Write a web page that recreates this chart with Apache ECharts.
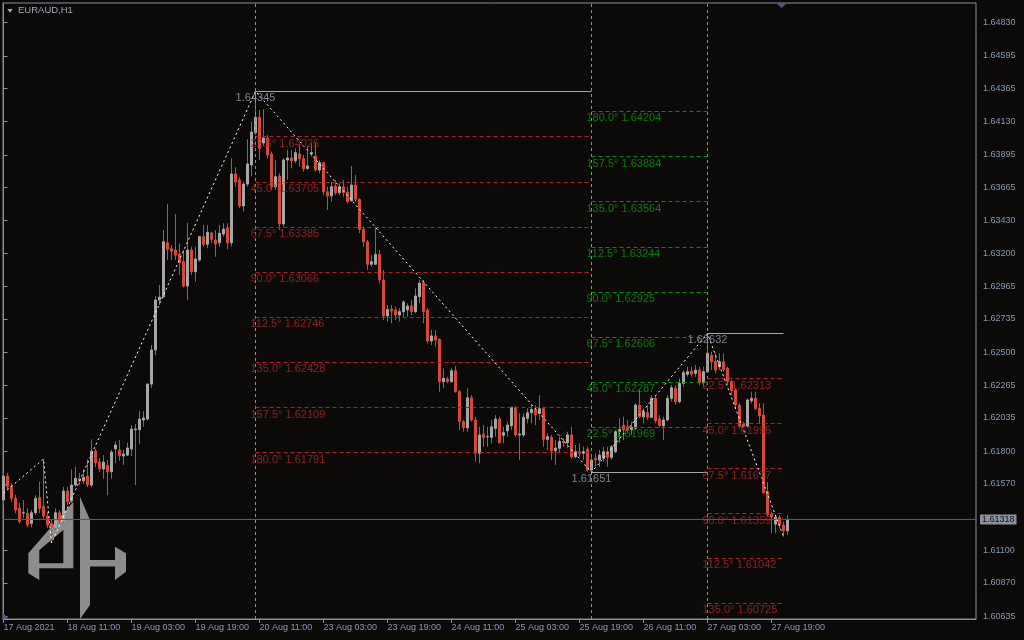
<!DOCTYPE html>
<html><head><meta charset="utf-8">
<script src="https://cdn.jsdelivr.net/npm/echarts@6/dist/echarts.min.js"></script>
<style>html,body{margin:0;padding:0;background:#0c0a08;}#c{width:1024px;height:640px;}</style>
</head><body><div id="c"></div>
<script>
const chartTitle = 'EURAUD,H1';
// hourly bars, index 0 = 17 Aug 2021 19:00 (weekend gap removed)
const opens = [1.61455,1.61625,1.61549,1.61467,1.61398,1.61363,1.61361,1.61290,1.61365,1.61474,1.61408,1.61342,1.61290,1.61262,1.61365,1.61307,1.61519,1.61448,1.61561,1.61608,1.61591,1.61625,1.61561,1.61801,1.61724,1.61674,1.61700,1.61655,1.61816,1.61809,1.61766,1.61773,1.61816,1.61952,1.61952,1.62021,1.62028,1.62275,1.62516,1.62869,
1.62893,1.63274,1.63232,1.63223,1.63195,1.63140,1.62968,1.63223,1.63069,1.63152,1.63317,1.63263,1.63343,1.63294,1.63274,1.63336,1.63380,1.63274,1.63760,1.63718,1.63534,1.63689,1.63824,1.64052,1.64161,1.63979,1.64015,1.63902,1.63670,1.63746,
1.63407,1.63859,1.63873,1.63854,1.63902,1.63868,1.63798,1.63902,1.63887,1.63788,1.63840,1.63635,1.63605,1.63675,1.63628,1.63670,1.63633,1.63571,1.63682,1.63581,1.63369,1.63281,1.63122,1.63122,1.63192,1.63011,1.62756,1.62806,1.62799,1.62763,
1.62787,1.62799,1.62827,1.62787,1.62893,1.62992,1.62799,1.62579,1.62615,1.62591,1.62292,1.62311,1.62292,1.62369,1.62221,1.62009,1.61966,1.62178,1.62021,1.61785,1.61920,1.61901,1.61898,1.61962,1.62028,1.61913,1.61945,1.61980,1.62111,1.61915,
1.61915,1.62033,1.62072,1.62096,1.62068,1.62101,1.61884,1.61898,1.61804,1.61821,1.61870,1.61860,1.61915,1.61761,1.61797,1.61785,1.61814,1.61667,1.61750,1.61738,1.61750,1.61797,1.61757,1.61797,1.61938,1.61983,1.61973,1.61955,1.61962,1.62127,
1.62044,1.62072,1.62040,1.62174,1.62028,1.61980,1.62021,1.62174,1.62245,1.62150,1.62280,1.62344,1.62367,1.62351,1.62374,1.62284,1.62362,1.62480,1.62433,1.62398,1.62433,1.62386,1.62292,1.62233,1.62127,1.61992,1.61978,1.62157,1.62174,1.62103,
1.62056,1.61514,1.61354,1.61285,1.61333,1.61278,1.61238];
const closes = [1.61625,1.61549,1.61467,1.61384,1.61302,1.61365,1.61278,1.61365,1.61467,1.61396,1.61342,1.61278,1.61262,1.61365,1.61307,1.61519,1.61443,1.61561,1.61608,1.61589,1.61615,1.61561,1.61801,1.61719,1.61676,1.61724,1.61655,1.61794,1.61844,1.61768,1.61780,1.61823,1.61957,1.61957,1.62028,1.62035,1.62275,1.62516,1.62869,1.62890,
1.63281,1.63228,1.63214,1.63187,1.63133,1.62968,1.63223,1.63069,1.63159,1.63317,1.63263,1.63348,1.63298,1.63265,1.63341,1.63371,1.63274,1.63760,1.63704,1.63534,1.63689,1.63831,1.64057,1.64161,1.63942,1.64015,1.63895,1.63670,1.63741,1.63407,
1.63859,1.63873,1.63854,1.63911,1.63868,1.63798,1.63817,1.63911,1.63788,1.63840,1.63635,1.63605,1.63670,1.63628,1.63670,1.63628,1.63564,1.63682,1.63581,1.63369,1.63281,1.63122,1.63140,1.63192,1.63011,1.62756,1.62803,1.62791,1.62763,1.62787,
1.62855,1.62827,1.62787,1.62898,1.62989,1.62787,1.62579,1.62615,1.62586,1.62292,1.62316,1.62292,1.62369,1.62221,1.62009,1.61966,1.62178,1.62021,1.61785,1.61915,1.61896,1.61903,1.61973,1.62028,1.61860,1.61931,1.61985,1.62111,1.61915,1.61922,
1.62040,1.62072,1.62096,1.62056,1.62101,1.61884,1.61903,1.61804,1.61823,1.61870,1.61860,1.61915,1.61761,1.61797,1.61785,1.61797,1.61667,1.61738,1.61738,1.61773,1.61797,1.61757,1.61832,1.61938,1.61955,1.61950,1.61955,1.61969,1.62127,1.62044,
1.62079,1.62040,1.62174,1.62016,1.61980,1.62021,1.62174,1.62249,1.62150,1.62280,1.62355,1.62362,1.62346,1.62374,1.62284,1.62362,1.62492,1.62433,1.62374,1.62433,1.62379,1.62292,1.62228,1.62127,1.61978,1.61978,1.62162,1.62174,1.62103,1.62051,
1.61507,1.61354,1.61335,1.61333,1.61278,1.61238,1.61318];
const highs = [1.61646,1.61646,1.61575,1.61490,1.61434,1.61455,1.61398,1.61384,1.61490,1.61584,1.61745,1.61372,1.61314,1.61396,1.61384,1.61549,1.61549,1.61672,1.61690,1.61646,1.61672,1.61743,1.61884,1.61816,1.61752,1.61773,1.61738,1.61809,1.61872,1.61879,1.61809,1.61860,1.61985,1.61992,1.62084,1.62084,1.62280,1.62551,1.62898,1.62975,
1.63364,1.63548,1.63258,1.63477,1.63270,1.63223,1.63414,1.63246,1.63246,1.63322,1.63400,1.63400,1.63352,1.63364,1.63400,1.63412,1.63412,1.63871,1.63808,1.63737,1.63706,1.64006,1.64130,1.64345,1.64213,1.64218,1.64036,1.63918,1.63859,1.63765,
1.63871,1.63930,1.63930,1.63942,1.63965,1.63895,1.63953,1.63977,1.63981,1.63859,1.63847,1.63670,1.63706,1.63718,1.63694,1.63718,1.63670,1.63817,1.63753,1.63588,1.63388,1.63294,1.63187,1.63388,1.63223,1.63081,1.62834,1.62834,1.62822,1.62811,
1.62869,1.62846,1.62869,1.62952,1.63011,1.63011,1.62811,1.62657,1.62657,1.62598,1.62386,1.62327,1.62386,1.62403,1.62233,1.62021,1.62245,1.62197,1.62044,1.61973,1.61985,1.61973,1.62021,1.62056,1.62044,1.61973,1.62009,1.62115,1.62115,1.62068,
1.62068,1.62103,1.62127,1.62127,1.62197,1.62115,1.61927,1.61915,1.61879,1.61903,1.61891,1.61938,1.61973,1.61844,1.61856,1.61832,1.61832,1.61761,1.61785,1.61809,1.61832,1.61832,1.61844,1.61950,1.62033,1.62044,1.62021,1.62009,1.62139,1.62233,
1.62103,1.62127,1.62197,1.62197,1.62056,1.62044,1.62197,1.62268,1.62268,1.62316,1.62374,1.62398,1.62398,1.62410,1.62398,1.62398,1.62632,1.62504,1.62492,1.62492,1.62492,1.62398,1.62304,1.62245,1.62139,1.62009,1.62174,1.62221,1.62221,1.62139,
1.62139,1.61584,1.61372,1.61349,1.61349,1.61302,1.61349];
const lows = [1.61420,1.61526,1.61443,1.61361,1.61290,1.61326,1.61262,1.61262,1.61349,1.61361,1.61326,1.61255,1.61151,1.61243,1.61290,1.61290,1.61420,1.61434,1.61547,1.61561,1.61568,1.61547,1.61547,1.61688,1.61653,1.61606,1.61490,1.61606,1.61715,1.61733,1.61703,1.61766,1.61766,1.61561,1.61851,1.61973,1.62016,1.62247,1.62480,1.62834,
1.62883,1.63152,1.63152,1.63152,1.63046,1.62959,1.62869,1.63046,1.62999,1.63140,1.63246,1.63235,1.63270,1.63175,1.63246,1.63317,1.63228,1.63246,1.63670,1.63518,1.63494,1.63670,1.63746,1.64036,1.63859,1.63958,1.63871,1.63647,1.63647,1.63364,
1.63388,1.63718,1.63800,1.63836,1.63812,1.63776,1.63793,1.63883,1.63776,1.63765,1.63612,1.63506,1.63564,1.63612,1.63612,1.63600,1.63553,1.63564,1.63564,1.63341,1.63246,1.63081,1.63105,1.63117,1.62987,1.62728,1.62716,1.62705,1.62728,1.62716,
1.62740,1.62751,1.62763,1.62775,1.62846,1.62705,1.62563,1.62551,1.62539,1.62221,1.62245,1.62280,1.62284,1.62214,1.61950,1.61938,1.61938,1.62009,1.61726,1.61715,1.61832,1.61832,1.61856,1.61903,1.61856,1.61856,1.61903,1.61950,1.61903,1.61738,
1.61903,1.61997,1.61997,1.61985,1.62021,1.61832,1.61809,1.61738,1.61703,1.61785,1.61832,1.61821,1.61750,1.61750,1.61761,1.61738,1.61655,1.61651,1.61690,1.61690,1.61726,1.61690,1.61738,1.61785,1.61856,1.61879,1.61938,1.61915,1.61950,1.62033,
1.61997,1.62021,1.62033,1.61997,1.61973,1.61879,1.62009,1.62150,1.62127,1.62139,1.62256,1.62327,1.62327,1.62327,1.62268,1.62256,1.62360,1.62374,1.62351,1.62374,1.62362,1.62268,1.62197,1.62103,1.61962,1.61969,1.61969,1.62139,1.62091,1.61997,
1.61502,1.61337,1.61220,1.61220,1.61255,1.61196,1.61208];

// zigzag pivots: [bar index, price]
const zigzag = [[0,1.61504],[10,1.61745],[12,1.61151],[63,1.64345],[147,1.61651],[176,1.62632],[195,1.61196]];

// Gann levels
const gannAngles = ['22.5°','45.0°','67.5°','90.0°','112.5°','135.0°','157.5°','180.0°'];
const gannA_span = [63,147];
const gannA_levels = [1.64025,1.63705,1.63385,1.63066,1.62746,1.62428,1.62109,1.61791];
const gannB_span = [147,176];
const gannB_levels = [1.61969,1.62287,1.62606,1.62925,1.63244,1.63564,1.63884,1.64204];
const gannC_span = [176,195];
const gannC_levels = [1.62313,1.61995,1.61677,1.61359,1.61042,1.60725];

// swing reference lines: [from, to, price]
const swingLines = [[63,147,1.64345],[147,176,1.61651],[176,195,1.62632]];
const pivotBars = [63,147,176];

const lastPrice = 1.61318;

const xTickIdx = [0,16,32,48,64,80,96,112,128,144,160,176,192];
const xTickLabels = ['17 Aug 2021','18 Aug 11:00','19 Aug 03:00','19 Aug 19:00','20 Aug 11:00','23 Aug 03:00','23 Aug 19:00','24 Aug 11:00','25 Aug 03:00','25 Aug 19:00','26 Aug 11:00','27 Aug 03:00','27 Aug 19:00'];
const yTickValues = [1.64830,1.64595,1.64365,1.64130,1.63895,1.63665,1.63430,1.63200,1.62965,1.62735,1.62500,1.62265,1.62035,1.61800,1.61570,1.61100,1.60870,1.60635];

const FONT = 'Liberation Sans';
const RED = '#b22222', GREEN = '#0a8a0a';
const X_MIN = -0.125, X_MAX = 243.125;

const wickData = opens.map((o,i)=>[i,o,closes[i],lows[i],highs[i]]);
const bodyData = opens.map((o,i)=>[i,o,closes[i],Math.min(o,closes[i]),Math.max(o,closes[i])]);

function gannLines(span, levels){ return levels.map(l=>({coords:[[span[0],l],[span[1],l]]})); }
function gannLabels(span, levels){ return levels.map((l,k)=>({value:[span[0],l], name: gannAngles[k]+' '+l.toFixed(5)})); }

const labelMap = {}; xTickIdx.forEach((v,k)=>labelMap[v]=xTickLabels[k]);

const chart = echarts.init(document.getElementById('c'), null, {renderer:'canvas'});
const levelLabel = (color)=>({show:true, position:'right', distance:0, offset:[-5,7], color:color, fontSize:11, fontFamily:FONT, formatter:p=>p.name});
const LOGO = '#8c8c8c', BG = '#0c0a08';

chart.setOption({
  backgroundColor:BG,
  animation:false,
  grid:{left:3,right:48,top:3,bottom:21,show:true,borderColor:'#8a8f99',borderWidth:1,backgroundColor:'transparent'},
  xAxis:{type:'value',min:X_MIN,max:X_MAX,
    axisLine:{show:true,lineStyle:{color:'#8a8f99'}},
    axisTick:{show:true,length:4,customValues:xTickIdx,lineStyle:{color:'#8a8f99'}},
    axisLabel:{customValues:xTickIdx,formatter:v=>labelMap[Math.round(v)]||'',align:'left',margin:4,color:'#8796b0',fontSize:9,fontFamily:FONT},
    splitLine:{show:false}},
  yAxis:{type:'value',position:'right',min:1.60614,max:1.64969,
    axisLine:{show:true,lineStyle:{color:'#8a8f99'}},
    axisTick:{show:true,length:4,customValues:yTickValues,lineStyle:{color:'#8a8f99'}},
    axisLabel:{customValues:yTickValues,formatter:v=>v.toFixed(5),margin:7,color:'#8796b0',fontSize:9,fontFamily:FONT},
    splitLine:{show:false}},
  graphic:[
    {type:'polygon',z:1,shape:{points:[[73.3,501.7],[73.3,568.3],[39.3,568.3],[39.3,580],[28.3,573.3],[28.3,553.3]]},style:{fill:LOGO}},
    {type:'polygon',z:1,shape:{points:[[39.3,550],[63.3,530],[63.3,563.3],[39.3,563.3]]},style:{fill:BG}},
    {type:'polygon',z:1,shape:{points:[[80,496.7],[90,520],[90,605],[80,619]]},style:{fill:LOGO}},
    {type:'rect',z:1,shape:{x:90,y:560,width:25,height:6.5},style:{fill:LOGO}},
    {type:'polygon',z:1,shape:{points:[[115,546.7],[126,553.3],[126,571.7],[115,580]]},style:{fill:LOGO}},
    {type:'polygon',z:10,shape:{points:[[7.3,9],[12.7,9],[10,12.7]]},style:{fill:'#a0aac0'}},
    {type:'text',z:10,left:18,top:5,style:{text:chartTitle,fill:'#a0aac0',font:'9.5px "Liberation Sans"'}},
    {type:'polygon',z:10,shape:{points:[[776,3],[787,3],[781.5,8]]},style:{fill:'#4a5680'}},
    {type:'polygon',z:10,shape:{points:[[3,613],[3,619],[9,619]]},style:{fill:'#4a5a9a'}}
  ],
  series:[
    {type:'candlestick',name:'wick',data:wickData,barWidth:0.3,z:3,
      itemStyle:{color:'#6e6e6e',color0:'#6e6e6e',borderColor:'#6e6e6e',borderColor0:'#6e6e6e',borderWidth:1}},
    {type:'candlestick',name:'body',data:bodyData,barWidth:2,z:4,
      itemStyle:{color:'#a6a6a6',color0:'#d44a3a',borderColor:'#a6a6a6',borderColor0:'#d44a3a',borderWidth:1},
      markLine:{symbol:['none','none'],silent:true,precision:5,
        data:pivotBars.map(b=>({xAxis:b})),
        lineStyle:{color:'#8f8f8f',width:1,type:[3,3]},label:{show:false}}},
    {type:'lines',coordinateSystem:'cartesian2d',z:5,data:gannLines(gannA_span,gannA_levels),lineStyle:{color:RED,width:1,type:[4,3],opacity:1}},
    {type:'lines',coordinateSystem:'cartesian2d',z:5,data:gannLines(gannB_span,gannB_levels),lineStyle:{color:GREEN,width:1,type:[4,3],opacity:1}},
    {type:'lines',coordinateSystem:'cartesian2d',z:5,data:gannLines(gannC_span,gannC_levels),lineStyle:{color:RED,width:1,type:[4,3],opacity:1}},
    {type:'lines',coordinateSystem:'cartesian2d',z:5,data:swingLines.map(s=>({coords:[[s[0],s[2]],[s[1],s[2]]]})),lineStyle:{color:'#a8a8a8',width:1,type:'solid',opacity:1}},
    {type:'line',name:'zigzag',data:zigzag,z:6,symbol:'none',lineStyle:{color:'#ffffff',width:1,type:[2,3]}},
    {type:'line',name:'price',data:[[X_MIN,lastPrice],[X_MAX,lastPrice]],z:2,symbol:'none',silent:true,
      lineStyle:{color:'#4250c0',width:1,type:'solid',opacity:1},
      markLine:{symbol:['none','none'],silent:true,precision:5,
        data:[{yAxis:lastPrice}],
        lineStyle:{color:'#4250c0',width:1,type:'solid',opacity:1},
        label:{show:true,position:'end',distance:4,formatter:lastPrice.toFixed(5),backgroundColor:'#8a909c',color:'#10131f',padding:[1,2,0,2],fontSize:9,fontFamily:FONT}}},
    {type:'scatter',z:7,symbolSize:0.01,itemStyle:{color:'rgba(0,0,0,0)'},data:gannLabels(gannA_span,gannA_levels),label:levelLabel('#b02626')},
    {type:'scatter',z:7,symbolSize:0.01,itemStyle:{color:'rgba(0,0,0,0)'},data:gannLabels(gannB_span,gannB_levels),label:levelLabel('#0c950c')},
    {type:'scatter',z:7,symbolSize:0.01,itemStyle:{color:'rgba(0,0,0,0)'},data:gannLabels(gannC_span,gannC_levels),label:levelLabel('#b02626')},
    {type:'scatter',z:7,symbolSize:0.01,itemStyle:{color:'rgba(0,0,0,0)'},data:swingLines.map(s=>({value:[s[0],s[2]],name:s[2].toFixed(5)})),
      label:{show:true,position:'inside',offset:[0,6.5],color:'#98a2b0',fontSize:11,fontFamily:FONT,formatter:p=>p.name}}
  ]
});
</script></body></html>
